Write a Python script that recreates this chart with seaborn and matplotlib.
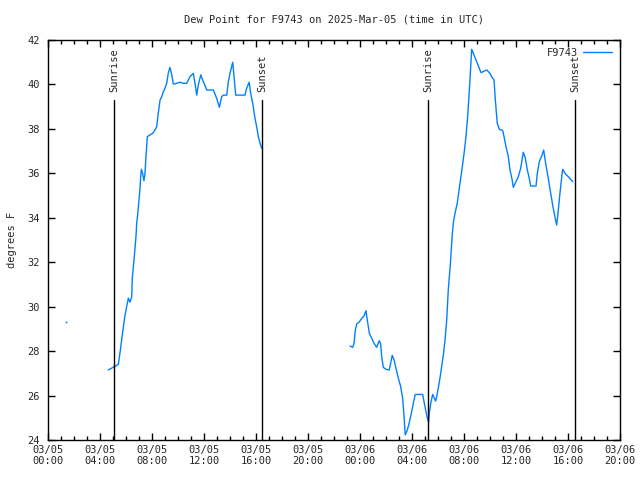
import pandas as pd
import matplotlib
matplotlib.use("Agg")
import matplotlib.pyplot as plt
import matplotlib.dates as mdates
import seaborn as sns

# hours after 2025-03-05 00:00 UTC, dew point in F, one list per unbroken stretch
seg0_hours = [1.41]
seg0_dewpt = [29.3]

seg1_hours = [4.64, 5.10, 5.41, 5.54, 5.67, 5.79, 5.92, 6.05, 6.18, 6.31, 6.44, 6.48,
              6.59, 6.69, 6.77, 6.82, 6.92, 7.00, 7.08, 7.13, 7.18, 7.28, 7.38, 7.46,
              7.52, 7.64, 7.85, 8.05, 8.23, 8.36, 8.48, 8.62, 8.75, 8.87, 9.00, 9.13,
              9.25, 9.38, 9.52, 9.64, 9.90, 10.15, 10.41, 10.67, 10.92, 11.18, 11.31,
              11.44, 11.56, 11.75, 11.95, 12.21, 12.72, 12.98, 13.18, 13.36, 13.48,
              13.75, 13.87, 14.00, 14.21, 14.31, 14.44, 14.77, 15.15, 15.28, 15.48,
              15.59, 15.75, 15.92, 16.05, 16.18, 16.31, 16.44]
seg1_dewpt = [27.15, 27.3, 27.4, 27.93, 28.53, 29.05, 29.6, 30.0, 30.38, 30.2, 30.45, 31.27,
              31.95, 32.6, 33.18, 33.72, 34.27, 34.8, 35.33, 35.85, 36.18, 36.0, 35.67, 35.97,
              36.6, 37.65, 37.73, 37.8, 37.95, 38.1, 38.7, 39.3, 39.45, 39.67, 39.83, 40.05,
              40.5, 40.77, 40.43, 40.02, 40.05, 40.1, 40.05, 40.05, 40.35, 40.5, 40.05,
              39.52, 39.97, 40.43, 40.12, 39.75, 39.75, 39.37, 38.97, 39.45, 39.52,
              39.52, 40.12, 40.5, 41.0, 40.35, 39.52, 39.52, 39.52, 39.83, 40.1,
              39.6, 39.15, 38.48, 38.1, 37.65, 37.35, 37.13]

seg2_hours = [23.23, 23.44, 23.54, 23.64, 23.75, 23.95, 24.13, 24.31, 24.46, 24.56, 24.72,
              24.90, 25.08, 25.28, 25.48, 25.59, 25.67, 25.79, 26.00, 26.25, 26.38, 26.48,
              26.62, 26.77, 26.95, 27.13, 27.28, 27.38, 27.48, 27.64, 27.79, 27.95, 28.10,
              28.25, 28.82, 28.95, 29.08, 29.18, 29.28, 29.33, 29.44, 29.59, 29.69, 29.82,
              29.90, 30.02, 30.15, 30.28, 30.41, 30.54, 30.67, 30.79, 30.95, 31.08, 31.18,
              31.31, 31.48, 31.69, 31.87, 32.02, 32.15, 32.28, 32.38, 32.46, 32.59, 32.72,
              32.92, 33.13, 33.31, 33.48, 33.75, 34.00, 34.13, 34.31, 34.41, 34.56, 34.72,
              34.98, 35.08, 35.23, 35.41, 35.54, 35.69, 35.79, 36.00, 36.18, 36.36, 36.56,
              36.72, 36.87, 37.02, 37.13, 37.54, 37.64, 37.79, 38.00, 38.13, 38.28, 38.48,
              38.67, 38.82, 39.00, 39.13, 39.23, 39.38, 39.52, 39.59, 39.77, 40.02, 40.36]
seg2_dewpt = [28.23, 28.17, 28.35, 28.95, 29.22, 29.32, 29.47, 29.58, 29.82, 29.4, 28.8,
              28.58, 28.35, 28.17, 28.47, 28.32, 27.75, 27.27, 27.18, 27.15, 27.52, 27.81,
              27.6, 27.22, 26.78, 26.4, 25.88, 25.13, 24.23, 24.45, 24.78, 25.2, 25.65,
              26.05, 26.05, 25.65, 25.27, 24.97, 24.82, 25.2, 25.65, 26.05, 25.92, 25.75,
              25.95, 26.33, 26.78, 27.3, 27.82, 28.5, 29.4, 30.75, 31.9, 33.1, 33.78,
              34.2, 34.65, 35.55, 36.3, 36.97, 37.65, 38.55, 39.45, 40.2, 41.58, 41.4,
              41.1, 40.8, 40.53, 40.58, 40.65, 40.5, 40.35, 40.2, 39.3, 38.25, 37.98,
              37.92, 37.65, 37.2, 36.75, 36.15, 35.75, 35.37, 35.63, 35.85, 36.23, 36.95,
              36.68, 36.15, 35.78, 35.43, 35.43, 36.0, 36.52, 36.82, 37.05, 36.45, 35.78,
              35.1, 34.57, 34.02, 33.67, 34.2, 35.1, 35.85, 36.18, 36.0, 35.85, 35.63]

sun_events = ["Sunrise", "Sunset", "Sunrise", "Sunset"]
sun_times = ["2025-03-05 05:05", "2025-03-05 16:28", "2025-03-06 05:14", "2025-03-06 16:32"]

station = "F9743"
start = pd.Timestamp("2025-03-05 00:00")
end = pd.Timestamp("2025-03-06 20:00")

frames = []
for i, (h, v) in enumerate([(seg0_hours, seg0_dewpt), (seg1_hours, seg1_dewpt), (seg2_hours, seg2_dewpt)]):
    frames.append(pd.DataFrame({"time": start + pd.to_timedelta(h, unit="h"), "dewpt": v, "seg": i}))
df = pd.concat(frames, ignore_index=True)

sns.set_style("ticks")
plt.rcParams["font.family"] = ["DejaVu Sans Mono"]
color = "#0080ff"

fig = plt.figure(figsize=(6.4, 4.8), dpi=100)
ax = fig.add_axes([48 / 640, 40 / 480, 572 / 640, 400 / 480])

sns.lineplot(data=df[df.seg > 0], x="time", y="dewpt", units="seg", estimator=None,
             color=color, lw=1, ax=ax)
lone = df[df.seg == 0]
ax.plot(lone.time, lone.dewpt, ls="none", marker="s", ms=1.2, color=color, mec="none")

for name, t in zip(sun_events, sun_times):
    t = pd.Timestamp(t)
    ax.axvline(t, ymin=0, ymax=0.85, color="black", lw=1)
    ax.text(t, 0.87, name, transform=ax.get_xaxis_transform(), rotation=90,
            ha="center", va="bottom", fontsize=7.5)

ax.plot([], [], color=color, lw=1, label=station)
ax.legend(loc="upper right", frameon=False, fontsize=7.5, handlelength=2.8,
          handletextpad=0.5, borderaxespad=0.45, borderpad=0.3, markerfirst=False)

ax.set_xlim(start, end)
ax.set_ylim(24, 42)
ax.set_yticks(range(24, 43, 2))
ax.xaxis.set_major_locator(mdates.HourLocator(byhour=range(0, 24, 4)))
ax.xaxis.set_minor_locator(mdates.HourLocator())
ax.xaxis.set_major_formatter(mdates.DateFormatter("%m/%d\n%H:%M"))
ax.tick_params(which="both", direction="in", top=True, right=True, labelsize=7.5,
               width=1, color="black")
ax.tick_params(which="major", length=5)
ax.tick_params(which="minor", length=3)
ax.tick_params(axis="y", pad=6)
for s in ax.spines.values():
    s.set_color("black")
    s.set_linewidth(1)

ax.set_xlabel("")
ax.set_ylabel("degrees F", fontsize=7.5, labelpad=7)
ax.set_title("Dew Point for F9743 on 2025-Mar-05 (time in UTC)", fontsize=7.5, pad=12.5)

fig.savefig("out.png", dpi=100)
